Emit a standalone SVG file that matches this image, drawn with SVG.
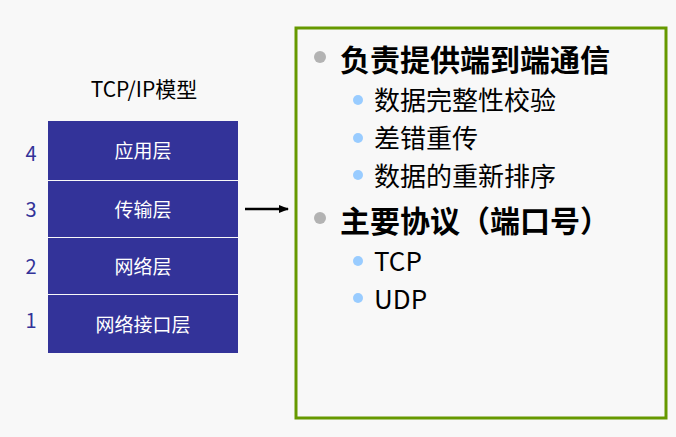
<svg xmlns="http://www.w3.org/2000/svg" width="676" height="437" viewBox="0 0 676 437">
<defs>
<marker id="ah" markerWidth="10" markerHeight="8" refX="9" refY="4" orient="auto" markerUnits="userSpaceOnUse"><path d="M0,0 L10,4 L0,8 z" fill="#000"/></marker>
<style>
.t{font-family:"Noto Sans CJK SC","Noto Sans",sans-serif}
.layer{fill:#333399}
.lt{fill:#fff;font-size:19px;text-anchor:middle}
.num{fill:#333399;font-size:20px;text-anchor:middle}
.h{font-size:30px;font-weight:bold;fill:#000}
.s{font-size:26px;fill:#000}
.b1{fill:#b3b3b3}
.b2{fill:#99ccff}
</style>
</defs>
<rect width="676" height="437" fill="#f8f8f8"/>
<text class="t" x="144" y="97" font-size="21" text-anchor="middle">TCP/IP模型</text>
<g id="layer4"><rect class="layer" x="48" y="121" width="190" height="59"/><text class="t lt" x="143" y="158">应用层</text><text class="t num" x="31" y="161">4</text></g>
<g id="layer3"><rect class="layer" x="48" y="181" width="190" height="56"/><text class="t lt" x="143" y="217">传输层</text><text class="t num" x="31" y="217">3</text></g>
<g id="layer2"><rect class="layer" x="48" y="238" width="190" height="56"/><text class="t lt" x="143" y="274">网络层</text><text class="t num" x="31" y="274">2</text></g>
<g id="layer1"><rect class="layer" x="48" y="295" width="190" height="58"/><text class="t lt" x="143" y="332">网络接口层</text><text class="t num" x="31" y="328">1</text></g>
<g id="connectors"><line x1="245" y1="209" x2="288" y2="209" stroke="#000" stroke-width="2.5" marker-end="url(#ah)"/></g>
<g id="panel">
<rect x="296" y="28" width="370" height="390" fill="none" stroke="#669900" stroke-width="3"/>
<circle class="b1" cx="320" cy="57" r="6"/><text class="t h" x="340" y="71">负责提供端到端通信</text>
<circle class="b2" cx="358" cy="100" r="5"/><text class="t s" x="374" y="110">数据完整性校验</text>
<circle class="b2" cx="358" cy="138" r="5"/><text class="t s" x="374" y="148">差错重传</text>
<circle class="b2" cx="358" cy="175" r="5"/><text class="t s" x="374" y="186">数据的重新排序</text>
<circle class="b1" cx="320" cy="218" r="6"/><text class="t h" x="340" y="232">主要协议（端口号）</text>
<circle class="b2" cx="358" cy="261" r="5"/><text class="t s" x="374" y="271">TCP</text>
<circle class="b2" cx="358" cy="298" r="5"/><text class="t s" x="374" y="309">UDP</text>
</g>
</svg>
